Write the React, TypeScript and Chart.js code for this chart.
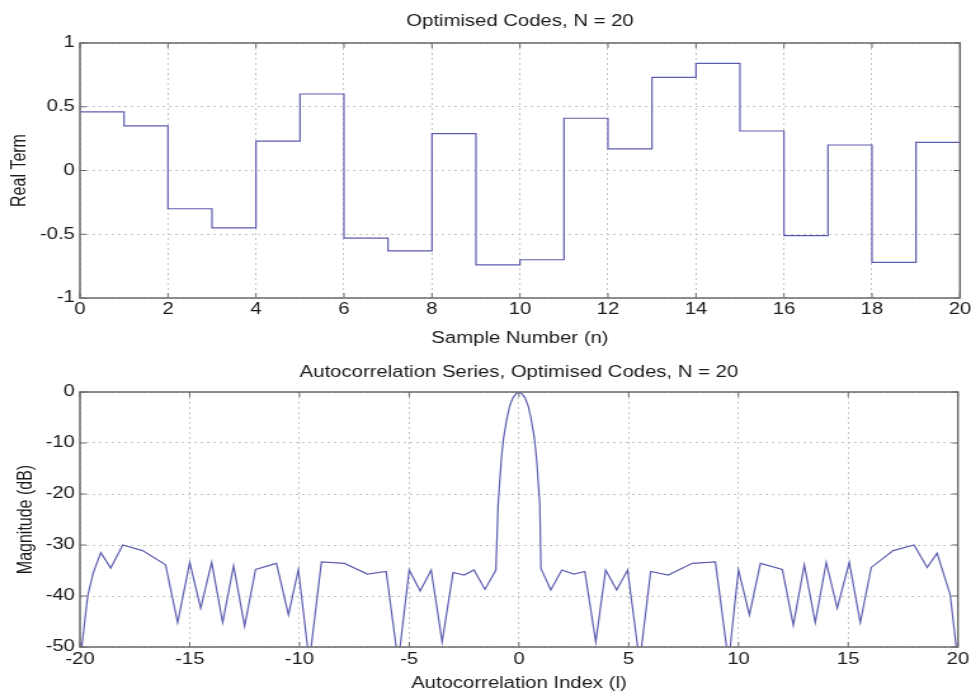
import React, { useEffect, useRef } from 'react';
import { Chart, registerables } from 'chart.js';

Chart.register(...registerables);

// ---------- data ----------
const sampleIndex = [0, 1, 2, 3, 4, 5, 6, 7, 8, 9, 10, 11, 12, 13, 14, 15, 16, 17, 18, 19, 20];
const realTerm = [0.46, 0.35, -0.3, -0.45, 0.23, 0.6, -0.53, -0.63, 0.29, -0.74, -0.7, 0.41, 0.17, 0.73, 0.84, 0.31, -0.51, 0.2, -0.72, 0.22, 0.22];

const lagIndex = [
  -20, -19.65, -19.4, -19.05, -18.6, -18.05, -17.15, -16.1, -15.55, -15, -14.5, -14, -13.5, -13, -12.5, -12,
  -11.05, -10.5, -10.05, -9.55, -9, -7.95, -6.9, -6.05, -5.5, -5, -4.5, -4, -3.5, -3, -2.5, -2.05, -1.55,
  -1.05, -0.95, -0.8, -0.7, -0.56, -0.42, -0.27, -0.12, 0,
  0.12, 0.27, 0.42, 0.56, 0.7, 0.8, 0.95, 1.0, 1.45, 1.95, 2.5, 3.0, 3.5, 3.95, 4.45, 4.95, 5.5, 6.0, 6.8,
  7.9, 8.95, 9.55, 10, 10.5, 11, 12, 12.5, 13, 13.5, 14, 14.5, 15.05, 15.55, 16.05, 17.05, 18, 18.6, 19.05,
  19.65, 20,
];
const magnitudeDb = [
  -53, -40, -35.5, -31.5, -34.5, -30, -31.1, -33.9, -45.2, -33.4, -42.4, -33.4, -45.2, -34.1, -45.9, -34.8,
  -33.6, -43.7, -34.8, -53, -33.3, -33.6, -35.7, -35.2, -53, -34.9, -39, -34.9, -49, -35.4, -35.9, -34.9, -38.7,
  -34.9, -22, -13, -9, -5.4, -2.7, -1.1, -0.3, 0,
  -0.3, -1.1, -2.7, -5.4, -9, -13, -22, -34.6, -38.8, -34.9, -35.7, -35.2, -49, -34.9, -38.8, -34.9, -53, -35.2, -35.9,
  -33.6, -33.3, -53, -34.9, -43.7, -33.6, -34.8, -45.7, -33.9, -45.2, -33.4, -42.4, -33.4, -45.2, -34.4, -31.1, -30, -34.4, -31.6,
  -39.8, -53,
];

const topTitle = 'Optimised Codes, N = 20';
const topXLabel = 'Sample Number (n)';
const topYLabel = 'Real Term';
const bottomTitle = 'Autocorrelation Series, Optimised Codes, N = 20';
const bottomXLabel = 'Autocorrelation Index (l)';
const bottomYLabel = 'Magnitude (dB)';

// ---------- style ----------
const CSS_W = 971;
const STRETCH = 1.27;
const CANVAS_W = Math.round(CSS_W / STRETCH);
const TOP_H = 350;
const BOTTOM_H = 343;
const FAMILY = "'Liberation Sans', Arial, Helvetica, sans-serif";
const TEXT = '#1a1a1a';
const LINE = '#5c5cb0';
const GRID = '#c4c4c4';
const FRAME = '#6a6a6a';

const framePlugin = {
  id: 'matlabFrame',
  afterDatasetsDraw(chart: any) {
    const { ctx, chartArea: a, scales } = chart;
    ctx.save();
    ctx.strokeStyle = FRAME;
    ctx.lineWidth = 1;
    const tl = 5;
    ctx.beginPath();
    scales.x.ticks.forEach((t: any) => {
      const px = scales.x.getPixelForValue(t.value);
      ctx.moveTo(px, a.bottom);
      ctx.lineTo(px, a.bottom - tl);
      ctx.moveTo(px, a.top);
      ctx.lineTo(px, a.top + tl);
    });
    scales.y.ticks.forEach((t: any) => {
      const py = scales.y.getPixelForValue(t.value);
      ctx.moveTo(a.left, py);
      ctx.lineTo(a.left + tl, py);
      ctx.moveTo(a.right, py);
      ctx.lineTo(a.right - tl, py);
    });
    ctx.stroke();
    ctx.lineWidth = 1.5;
    ctx.strokeRect(a.left, a.top, a.right - a.left, a.bottom - a.top);
    ctx.restore();
  },
};

function makeTitlePlugin(text: string, y: number) {
  return {
    id: 'plotTitle',
    afterDraw(chart: any) {
      const { ctx, chartArea: a } = chart;
      ctx.save();
      ctx.font = `normal 16px ${FAMILY}`;
      ctx.fillStyle = TEXT;
      ctx.textAlign = 'center';
      ctx.textBaseline = 'middle';
      ctx.fillText(text, (a.left + a.right) / 2, y);
      ctx.restore();
    },
  };
}

const font = { family: FAMILY, size: 16, weight: 'normal' as const };

function makeAxis(opts: {
  min: number; max: number; step: number; title: string; titlePad: any; tickPad: number; fit: (s: any) => void;
}) {
  return {
    type: 'linear' as const,
    min: opts.min,
    max: opts.max,
    ticks: {
      stepSize: opts.step,
      padding: opts.tickPad,
      color: TEXT,
      font,
      autoSkip: false,
      maxRotation: 0,
      callback: (v: number) => String(Math.round(v * 100) / 100),
    },
    grid: { color: GRID, lineWidth: 1, drawTicks: false },
    border: { display: false, dash: [2, 3] },
    title: { display: true, text: opts.title, color: TEXT, font, padding: opts.titlePad },
    afterFit: (s: any) => {
      opts.fit(s);
      s.paddingLeft = 0;
      s.paddingRight = 0;
      s.paddingTop = 0;
      s.paddingBottom = 0;
    },
  };
}

export default function App() {
  const topRef = useRef<HTMLCanvasElement>(null);
  const bottomRef = useRef<HTMLCanvasElement>(null);

  useEffect(() => {
    const top = new Chart(topRef.current as HTMLCanvasElement, {
      type: 'line',
      data: {
        datasets: [
          {
            data: sampleIndex.map((x, i) => ({ x, y: realTerm[i] })),
            stepped: true,
            borderColor: LINE,
            borderWidth: 1.2,
            pointRadius: 0,
            fill: false,
          },
        ],
      },
      options: {
        responsive: false,
        animation: false,
        devicePixelRatio: 1,
        layout: { padding: { left: 0, right: 8.7, top: 43, bottom: 0 } },
        plugins: {
          legend: { display: false },
          tooltip: { enabled: false },
          title: { display: false },
        },
        scales: {
          x: makeAxis({ min: 0, max: 20, step: 2, title: topXLabel, titlePad: { top: 0, bottom: 1.4 }, tickPad: 2.4, fit: (s) => { s.height = TOP_H - 298; } }),
          y: makeAxis({ min: -1, max: 1, step: 0.5, title: topYLabel, titlePad: { top: 6, bottom: 0 }, tickPad: 4, fit: (s) => { s.width = 63; } }),
        },
      } as any,
      plugins: [framePlugin, makeTitlePlugin(topTitle, 22)],
    });

    const bottom = new Chart(bottomRef.current as HTMLCanvasElement, {
      type: 'line',
      data: {
        datasets: [
          {
            data: lagIndex.map((x, i) => ({ x, y: magnitudeDb[i] })),
            borderColor: LINE,
            borderWidth: 1.2,
            pointRadius: 0,
            fill: false,
            tension: 0,
          },
        ],
      },
      options: {
        responsive: false,
        animation: false,
        devicePixelRatio: 1,
        layout: { padding: { left: 0, right: 10.3, top: 42, bottom: 0 } },
        plugins: {
          legend: { display: false },
          tooltip: { enabled: false },
          title: { display: false },
        },
        scales: {
          x: makeAxis({ min: -20, max: 20, step: 5, title: bottomXLabel, titlePad: { top: 0, bottom: 0 }, tickPad: 3.4, fit: (s) => { s.height = BOTTOM_H - 297; } }),
          y: makeAxis({ min: -50, max: 0, step: 10, title: bottomYLabel, titlePad: { top: 10.9, bottom: 0 }, tickPad: 4, fit: (s) => { s.width = 63; } }),
        },
      } as any,
      plugins: [framePlugin, makeTitlePlugin(bottomTitle, 22.5)],
    });

    return () => {
      top.destroy();
      bottom.destroy();
    };
  }, []);

  return (
    <div style={{ position: 'absolute', left: 0, top: 0, width: CSS_W, height: TOP_H + BOTTOM_H, background: '#fff' }}>
      <canvas
        ref={topRef}
        width={CANVAS_W}
        height={TOP_H}
        style={{ display: 'block', width: `${CSS_W}px`, height: `${TOP_H}px` }}
      />
      <canvas
        ref={bottomRef}
        width={CANVAS_W}
        height={BOTTOM_H}
        style={{ display: 'block', width: `${CSS_W}px`, height: `${BOTTOM_H}px` }}
      />
    </div>
  );
}
